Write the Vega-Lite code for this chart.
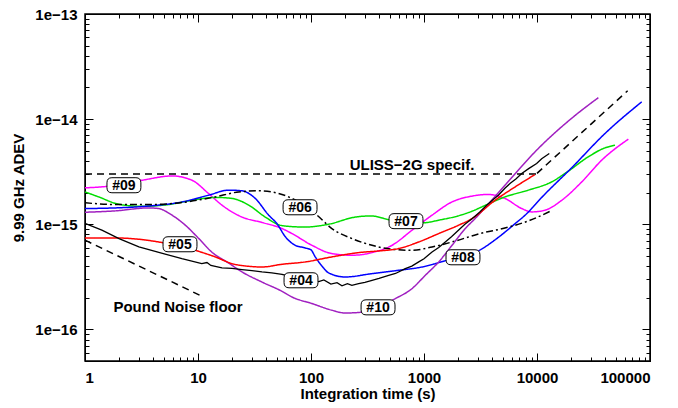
{
  "$schema": "https://vega.github.io/schema/vega-lite/v6.json",
  "width": 565,
  "height": 347,
  "autosize": "none",
  "padding": {"left": 85, "top": 14, "right": 28, "bottom": 47},
  "config": {
    "view": {"stroke": "black", "strokeWidth": 1.5},
    "font": "Liberation Sans",
    "axis": {
      "domainColor": "black", "grid": false, "tickColor": "black",
      "labelFont": "Liberation Sans", "labelFontSize": 15, "labelFontWeight": "bold", "labelColor": "black",
      "titleFont": "Liberation Sans", "titleFontSize": 15, "titleFontWeight": "bold", "titleColor": "black"
    }
  },
  "datasets": {
    "curves": [
      {"s": "ULISS", "x": 1, "y": 3.01e-15}, {"s": "ULISS", "x": 10000, "y": 3.01e-15},
      {"s": "Pound", "x": 1, "y": 7.05e-16}, {"s": "Pound", "x": 11.2, "y": 2.03e-16},
      {"s": "Drift", "x": 10000, "y": 3.05e-15}, {"s": "Drift", "x": 63400, "y": 1.86e-14},

      {"s": "#09", "x": 1, "y": 2.22e-15}, {"s": "#09", "x": 1.62, "y": 2.3e-15}, {"s": "#09", "x": 3.19, "y": 2.62e-15},
      {"s": "#09", "x": 5.89, "y": 2.88e-15}, {"s": "#09", "x": 8.85, "y": 2.62e-15}, {"s": "#09", "x": 12.4, "y": 1.96e-15},
      {"s": "#09", "x": 16.3, "y": 1.52e-15}, {"s": "#09", "x": 24.5, "y": 1.17e-15}, {"s": "#09", "x": 36.8, "y": 1.04e-15},
      {"s": "#09", "x": 55.4, "y": 9.1e-16}, {"s": "#09", "x": 67.9, "y": 8.15e-16}, {"s": "#09", "x": 102, "y": 6.3e-16},
      {"s": "#09", "x": 153, "y": 5.26e-16}, {"s": "#09", "x": 231, "y": 5.07e-16}, {"s": "#09", "x": 347, "y": 5.37e-16},
      {"s": "#09", "x": 521, "y": 6.3e-16}, {"s": "#09", "x": 783, "y": 8.77e-16}, {"s": "#09", "x": 1178, "y": 1.22e-15},
      {"s": "#09", "x": 1770, "y": 1.63e-15}, {"s": "#09", "x": 2645, "y": 1.85e-15}, {"s": "#09", "x": 3684, "y": 1.92e-15},
      {"s": "#09", "x": 5208, "y": 1.76e-15}, {"s": "#09", "x": 7323, "y": 1.41e-15}, {"s": "#09", "x": 8985, "y": 1.31e-15},
      {"s": "#09", "x": 11770, "y": 1.36e-15}, {"s": "#09", "x": 16550, "y": 1.69e-15}, {"s": "#09", "x": 24900, "y": 2.53e-15},
      {"s": "#09", "x": 37400, "y": 4.07e-15}, {"s": "#09", "x": 64300, "y": 6.45e-15},

      {"s": "#07", "x": 1, "y": 2.03e-15}, {"s": "#07", "x": 1.32, "y": 1.82e-15}, {"s": "#07", "x": 1.99, "y": 1.55e-15},
      {"s": "#07", "x": 3.19, "y": 1.48e-15}, {"s": "#07", "x": 5.5, "y": 1.54e-15}, {"s": "#07", "x": 8.85, "y": 1.69e-15},
      {"s": "#07", "x": 14.2, "y": 1.8e-15}, {"s": "#07", "x": 20, "y": 1.76e-15}, {"s": "#07", "x": 28.1, "y": 1.52e-15},
      {"s": "#07", "x": 39.4, "y": 1.17e-15}, {"s": "#07", "x": 55.4, "y": 9.7e-16}, {"s": "#07", "x": 88.5, "y": 9.4e-16},
      {"s": "#07", "x": 143, "y": 1.0e-15}, {"s": "#07", "x": 247, "y": 1.17e-15}, {"s": "#07", "x": 340, "y": 1.2e-15},
      {"s": "#07", "x": 500, "y": 1.1e-15}, {"s": "#07", "x": 960, "y": 1.03e-15}, {"s": "#07", "x": 1390, "y": 1.1e-15},
      {"s": "#07", "x": 2000, "y": 1.2e-15}, {"s": "#07", "x": 2660, "y": 1.33e-15}, {"s": "#07", "x": 3240, "y": 1.46e-15},
      {"s": "#07", "x": 5208, "y": 1.82e-15}, {"s": "#07", "x": 8380, "y": 2.11e-15}, {"s": "#07", "x": 13490, "y": 2.53e-15},
      {"s": "#07", "x": 18920, "y": 3.2e-15}, {"s": "#07", "x": 28440, "y": 4.38e-15}, {"s": "#07", "x": 39970, "y": 5.33e-15},
      {"s": "#07", "x": 48980, "y": 5.65e-15},

      {"s": "#08", "x": 1, "y": 1.41e-15}, {"s": "#08", "x": 1.85, "y": 1.43e-15}, {"s": "#08", "x": 3.66, "y": 1.49e-15},
      {"s": "#08", "x": 7.22, "y": 1.63e-15}, {"s": "#08", "x": 12.4, "y": 1.89e-15}, {"s": "#08", "x": 18.7, "y": 2.11e-15},
      {"s": "#08", "x": 24.5, "y": 2.08e-15}, {"s": "#08", "x": 32.1, "y": 1.76e-15}, {"s": "#08", "x": 42.2, "y": 1.22e-15},
      {"s": "#08", "x": 49.7, "y": 1.02e-15}, {"s": "#08", "x": 59.3, "y": 7.6e-16}, {"s": "#08", "x": 72.6, "y": 6.3e-16},
      {"s": "#08", "x": 89.1, "y": 5.95e-16}, {"s": "#08", "x": 100, "y": 5.7e-16}, {"s": "#08", "x": 109, "y": 4.9e-16},
      {"s": "#08", "x": 125, "y": 4.0e-16}, {"s": "#08", "x": 143, "y": 3.45e-16}, {"s": "#08", "x": 201, "y": 3.15e-16},
      {"s": "#08", "x": 347, "y": 3.39e-16}, {"s": "#08", "x": 597, "y": 3.65e-16}, {"s": "#08", "x": 960, "y": 3.92e-16},
      {"s": "#08", "x": 1589, "y": 4.54e-16}, {"s": "#08", "x": 3025, "y": 5.57e-16}, {"s": "#08", "x": 4400, "y": 7.3e-16},
      {"s": "#08", "x": 6170, "y": 9.8e-16}, {"s": "#08", "x": 8100, "y": 1.26e-15}, {"s": "#08", "x": 11010, "y": 1.8e-15},
      {"s": "#08", "x": 20300, "y": 3.45e-15}, {"s": "#08", "x": 39970, "y": 7.3e-15}, {"s": "#08", "x": 84500, "y": 1.46e-14},

      {"s": "#06", "x": 1, "y": 1.6e-15}, {"s": "#06", "x": 1.85, "y": 1.54e-15}, {"s": "#06", "x": 3.66, "y": 1.54e-15},
      {"s": "#06", "x": 7.22, "y": 1.61e-15}, {"s": "#06", "x": 14.2, "y": 1.82e-15}, {"s": "#06", "x": 22.9, "y": 2.03e-15},
      {"s": "#06", "x": 34.4, "y": 2.08e-15}, {"s": "#06", "x": 55.4, "y": 1.92e-15}, {"s": "#06", "x": 80, "y": 1.6e-15},
      {"s": "#06", "x": 113, "y": 1.22e-15}, {"s": "#06", "x": 153, "y": 9.1e-16}, {"s": "#06", "x": 231, "y": 7.3e-16},
      {"s": "#06", "x": 347, "y": 6.3e-16}, {"s": "#06", "x": 521, "y": 5.78e-16}, {"s": "#06", "x": 783, "y": 5.65e-16},
      {"s": "#06", "x": 1178, "y": 6.08e-16}, {"s": "#06", "x": 1770, "y": 6.78e-16}, {"s": "#06", "x": 3130, "y": 8.15e-16},
      {"s": "#06", "x": 5395, "y": 9.3e-16}, {"s": "#06", "x": 8670, "y": 1.09e-15}, {"s": "#06", "x": 13300, "y": 1.34e-15},

      {"s": "#10", "x": 1, "y": 1.3e-15}, {"s": "#10", "x": 1.85, "y": 1.34e-15}, {"s": "#10", "x": 3.66, "y": 1.43e-15},
      {"s": "#10", "x": 4.48, "y": 1.41e-15}, {"s": "#10", "x": 5.89, "y": 1.22e-15}, {"s": "#10", "x": 7.72, "y": 9.8e-16},
      {"s": "#10", "x": 10.1, "y": 7.36e-16}, {"s": "#10", "x": 13.3, "y": 5.41e-16}, {"s": "#10", "x": 18.7, "y": 4.27e-16},
      {"s": "#10", "x": 24.5, "y": 3.52e-16}, {"s": "#10", "x": 36.8, "y": 2.82e-16}, {"s": "#10", "x": 55.4, "y": 2.3e-16},
      {"s": "#10", "x": 67.9, "y": 2.03e-16}, {"s": "#10", "x": 102, "y": 1.76e-16}, {"s": "#10", "x": 153, "y": 1.52e-16},
      {"s": "#10", "x": 201, "y": 1.43e-16}, {"s": "#10", "x": 283, "y": 1.46e-16}, {"s": "#10", "x": 557, "y": 1.96e-16},
      {"s": "#10", "x": 783, "y": 2.44e-16}, {"s": "#10", "x": 1028, "y": 3.27e-16}, {"s": "#10", "x": 1349, "y": 4.38e-16},
      {"s": "#10", "x": 1770, "y": 6.3e-16}, {"s": "#10", "x": 2318, "y": 9.1e-16}, {"s": "#10", "x": 2828, "y": 1.13e-15},
      {"s": "#10", "x": 5208, "y": 2.35e-15}, {"s": "#10", "x": 10280, "y": 5.26e-15}, {"s": "#10", "x": 20300, "y": 1.02e-14},
      {"s": "#10", "x": 34900, "y": 1.6e-14},

      {"s": "#05", "x": 1, "y": 7.41e-16}, {"s": "#05", "x": 1.85, "y": 7.41e-16}, {"s": "#05", "x": 2.99, "y": 7.2e-16},
      {"s": "#05", "x": 4.8, "y": 6.7e-16}, {"s": "#05", "x": 6.93, "y": 6.24e-16}, {"s": "#05", "x": 10.1, "y": 5.53e-16},
      {"s": "#05", "x": 14.2, "y": 4.89e-16}, {"s": "#05", "x": 20, "y": 4.22e-16}, {"s": "#05", "x": 28.1, "y": 3.98e-16},
      {"s": "#05", "x": 36.8, "y": 3.92e-16}, {"s": "#05", "x": 55.4, "y": 4.16e-16}, {"s": "#05", "x": 89.1, "y": 4.38e-16},
      {"s": "#05", "x": 153, "y": 4.89e-16}, {"s": "#05", "x": 264, "y": 5.37e-16}, {"s": "#05", "x": 397, "y": 5.57e-16},
      {"s": "#05", "x": 597, "y": 5.87e-16}, {"s": "#05", "x": 898, "y": 6.78e-16}, {"s": "#05", "x": 1349, "y": 8.15e-16},
      {"s": "#05", "x": 2028, "y": 9.8e-16}, {"s": "#05", "x": 2660, "y": 1.13e-15}, {"s": "#05", "x": 4250, "y": 1.69e-15},
      {"s": "#05", "x": 6380, "y": 2.26e-15}, {"s": "#05", "x": 9600, "y": 2.97e-15},

      {"s": "#04", "x": 1, "y": 1.02e-15}, {"s": "#04", "x": 1.41, "y": 8.8e-16}, {"s": "#04", "x": 2, "y": 7.3e-16},
      {"s": "#04", "x": 3, "y": 6.1e-16}, {"s": "#04", "x": 4.5, "y": 5.4e-16}, {"s": "#04", "x": 7.2, "y": 4.7e-16},
      {"s": "#04", "x": 10.8, "y": 4.22e-16}, {"s": "#04", "x": 12, "y": 4.32e-16}, {"s": "#04", "x": 13, "y": 4.05e-16},
      {"s": "#04", "x": 16.3, "y": 3.84e-16}, {"s": "#04", "x": 20, "y": 3.8e-16}, {"s": "#04", "x": 24.5, "y": 3.7e-16},
      {"s": "#04", "x": 30, "y": 3.62e-16}, {"s": "#04", "x": 36.8, "y": 3.52e-16}, {"s": "#04", "x": 45, "y": 3.45e-16},
      {"s": "#04", "x": 55.4, "y": 3.34e-16}, {"s": "#04", "x": 81.6, "y": 3.0e-16}, {"s": "#04", "x": 117, "y": 2.85e-16},
      {"s": "#04", "x": 130, "y": 2.95e-16}, {"s": "#04", "x": 150, "y": 2.7e-16}, {"s": "#04", "x": 170, "y": 2.78e-16},
      {"s": "#04", "x": 188, "y": 2.6e-16}, {"s": "#04", "x": 210, "y": 2.72e-16}, {"s": "#04", "x": 230, "y": 2.62e-16},
      {"s": "#04", "x": 264, "y": 2.72e-16}, {"s": "#04", "x": 300, "y": 2.8e-16}, {"s": "#04", "x": 347, "y": 2.93e-16},
      {"s": "#04", "x": 400, "y": 3.05e-16}, {"s": "#04", "x": 487, "y": 3.27e-16}, {"s": "#04", "x": 560, "y": 3.4e-16},
      {"s": "#04", "x": 683, "y": 3.78e-16}, {"s": "#04", "x": 780, "y": 4.0e-16}, {"s": "#04", "x": 898, "y": 4.38e-16},
      {"s": "#04", "x": 1000, "y": 4.7e-16}, {"s": "#04", "x": 1178, "y": 5.45e-16}, {"s": "#04", "x": 1350, "y": 6.0e-16},
      {"s": "#04", "x": 1543, "y": 6.78e-16}, {"s": "#04", "x": 1750, "y": 7.6e-16}, {"s": "#04", "x": 2028, "y": 8.8e-16},
      {"s": "#04", "x": 2300, "y": 1.0e-15}, {"s": "#04", "x": 2660, "y": 1.13e-15}, {"s": "#04", "x": 3100, "y": 1.3e-15},
      {"s": "#04", "x": 3590, "y": 1.52e-15}, {"s": "#04", "x": 4000, "y": 1.68e-15}, {"s": "#04", "x": 4550, "y": 1.89e-15},
      {"s": "#04", "x": 5200, "y": 2.2e-15}, {"s": "#04", "x": 5800, "y": 2.45e-15}, {"s": "#04", "x": 6500, "y": 2.7e-15},
      {"s": "#04", "x": 7323, "y": 3.04e-15}, {"s": "#04", "x": 8500, "y": 3.4e-15}, {"s": "#04", "x": 9930, "y": 3.78e-15},
      {"s": "#04", "x": 11000, "y": 4.2e-15}, {"s": "#04", "x": 12850, "y": 4.71e-15}
    ],
    "labels": [
      {"t": "#09", "x": 2.21, "y": 2.35e-15},
      {"t": "#06", "x": 80, "y": 1.45e-15},
      {"t": "#05", "x": 6.93, "y": 6.45e-16},
      {"t": "#04", "x": 81.6, "y": 2.93e-16},
      {"t": "#07", "x": 693, "y": 1.07e-15},
      {"t": "#08", "x": 2213, "y": 4.85e-16},
      {"t": "#10", "x": 392, "y": 1.62e-16}
    ],
    "texts": [
      {"t": "ULISS−2G specif.", "x": 783, "y": 3.73e-15},
      {"t": "Pound Noise floor", "x": 6.65, "y": 1.66e-16}
    ]
  },
  "resolve": {"axis": {"x": "independent", "y": "independent"}},
  "layer": [
    {
      "data": {"name": "curves"},
      "transform": [{"filter": "datum.s != '#04'"}],
      "mark": {"type": "line", "interpolate": "monotone", "strokeWidth": 1.5},
      "encoding": {
        "x": {
          "field": "x", "type": "quantitative",
          "scale": {"type": "log", "domain": [1, 100000], "nice": false},
          "axis": {
            "orient": "bottom", "title": "Integration time (s)", "titlePadding": 1,
            "values": [1, 10, 100, 1000, 10000, 100000], "format": "d",
            "tickSize": -8, "labelPadding": 17
          }
        },
        "y": {
          "field": "y", "type": "quantitative",
          "scale": {"type": "log", "domain": [5e-17, 1e-13], "nice": false},
          "axis": {
            "orient": "left", "title": "9.99 GHz ADEV", "titlePadding": 8,
            "values": [1e-16, 1e-15, 1e-14, 1e-13],
            "labelExpr": "'1e−' + (-round(log(datum.value)/LN10))",
            "tickSize": -8, "labelPadding": 16
          }
        },
        "stroke": {
          "field": "s", "type": "nominal", "legend": null,
          "scale": {
            "domain": ["ULISS", "Pound", "Drift", "#05", "#06", "#07", "#08", "#09", "#10"],
            "range": ["#000000", "#000000", "#000000", "#ff0000", "#000000", "#00dd00", "#0000ff", "#ff00ff", "#a020c0"]
          }
        },
        "strokeDash": {
          "field": "s", "type": "nominal", "legend": null,
          "scale": {
            "domain": ["ULISS", "Pound", "Drift", "#05", "#06", "#07", "#08", "#09", "#10"],
            "range": [[7, 5], [7, 5], [7, 5], [1, 0], [7, 3, 2, 3], [1, 0], [1, 0], [1, 0], [1, 0]]
          }
        }
      }
    },
    {
      "data": {"name": "curves"},
      "transform": [{"filter": "datum.s == '#04'"}],
      "mark": {"type": "line", "interpolate": "linear", "strokeWidth": 1.3, "color": "black"},
      "encoding": {
        "x": {
          "field": "x", "type": "quantitative", "scale": {"type": "log", "domain": [1, 100000], "nice": false},
          "axis": {"orient": "top", "title": null, "labels": false, "tickSize": -8, "values": [10, 100, 1000, 10000]}
        },
        "y": {
          "field": "y", "type": "quantitative", "scale": {"type": "log", "domain": [5e-17, 1e-13], "nice": false},
          "axis": {"orient": "right", "title": null, "labels": false, "tickSize": -8, "values": [1e-16, 1e-15, 1e-14]}
        }
      }
    },
    {
      "data": {"name": "labels"},
      "mark": {
        "type": "point", "filled": true, "fill": "white", "stroke": "black", "strokeWidth": 1, "opacity": 1, "size": 256,
        "shape": "M-1.5,-0.94L1.5,-0.94Q2.12,-0.94 2.12,-0.3L2.12,0.3Q2.12,0.94 1.5,0.94L-1.5,0.94Q-2.12,0.94 -2.12,0.3L-2.12,-0.3Q-2.12,-0.94 -1.5,-0.94Z"
      },
      "encoding": {
        "x": {
          "field": "x", "type": "quantitative", "scale": {"type": "log", "domain": [1, 100000], "nice": false},
          "axis": {
            "orient": "bottom", "title": null, "labels": false, "tickSize": -4,
            "values": [2,3,4,5,6,7,8,9,20,30,40,50,60,70,80,90,200,300,400,500,600,700,800,900,2000,3000,4000,5000,6000,7000,8000,9000,20000,30000,40000,50000,60000,70000,80000,90000]
          }
        },
        "y": {
          "field": "y", "type": "quantitative", "scale": {"type": "log", "domain": [5e-17, 1e-13], "nice": false},
          "axis": {
            "orient": "left", "title": null, "labels": false, "tickSize": -4,
            "values": [5e-17,6e-17,7e-17,8e-17,9e-17,2e-16,3e-16,4e-16,5e-16,6e-16,7e-16,8e-16,9e-16,2e-15,3e-15,4e-15,5e-15,6e-15,7e-15,8e-15,9e-15,2e-14,3e-14,4e-14,5e-14,6e-14,7e-14,8e-14,9e-14]
          }
        }
      }
    },
    {
      "data": {"name": "labels"},
      "mark": {"type": "text", "font": "Liberation Sans", "fontSize": 14, "fontWeight": "bold", "color": "black", "align": "center", "baseline": "middle", "dy": 1},
      "encoding": {
        "x": {
          "field": "x", "type": "quantitative", "scale": {"type": "log", "domain": [1, 100000], "nice": false},
          "axis": {
            "orient": "top", "title": null, "labels": false, "tickSize": -4,
            "values": [2,3,4,5,6,7,8,9,20,30,40,50,60,70,80,90,200,300,400,500,600,700,800,900,2000,3000,4000,5000,6000,7000,8000,9000,20000,30000,40000,50000,60000,70000,80000,90000]
          }
        },
        "y": {
          "field": "y", "type": "quantitative", "scale": {"type": "log", "domain": [5e-17, 1e-13], "nice": false},
          "axis": {
            "orient": "right", "title": null, "labels": false, "tickSize": -4,
            "values": [5e-17,6e-17,7e-17,8e-17,9e-17,2e-16,3e-16,4e-16,5e-16,6e-16,7e-16,8e-16,9e-16,2e-15,3e-15,4e-15,5e-15,6e-15,7e-15,8e-15,9e-15,2e-14,3e-14,4e-14,5e-14,6e-14,7e-14,8e-14,9e-14]
          }
        },
        "text": {"field": "t"}
      }
    },
    {
      "data": {"name": "texts"},
      "mark": {"type": "text", "font": "Liberation Sans", "fontSize": 15, "fontWeight": "bold", "color": "black", "align": "center", "baseline": "middle", "dy": 1},
      "encoding": {
        "x": {"field": "x", "type": "quantitative", "scale": {"type": "log", "domain": [1, 100000], "nice": false}, "axis": null},
        "y": {"field": "y", "type": "quantitative", "scale": {"type": "log", "domain": [5e-17, 1e-13], "nice": false}, "axis": null},
        "text": {"field": "t"}
      }
    }
  ]
}
